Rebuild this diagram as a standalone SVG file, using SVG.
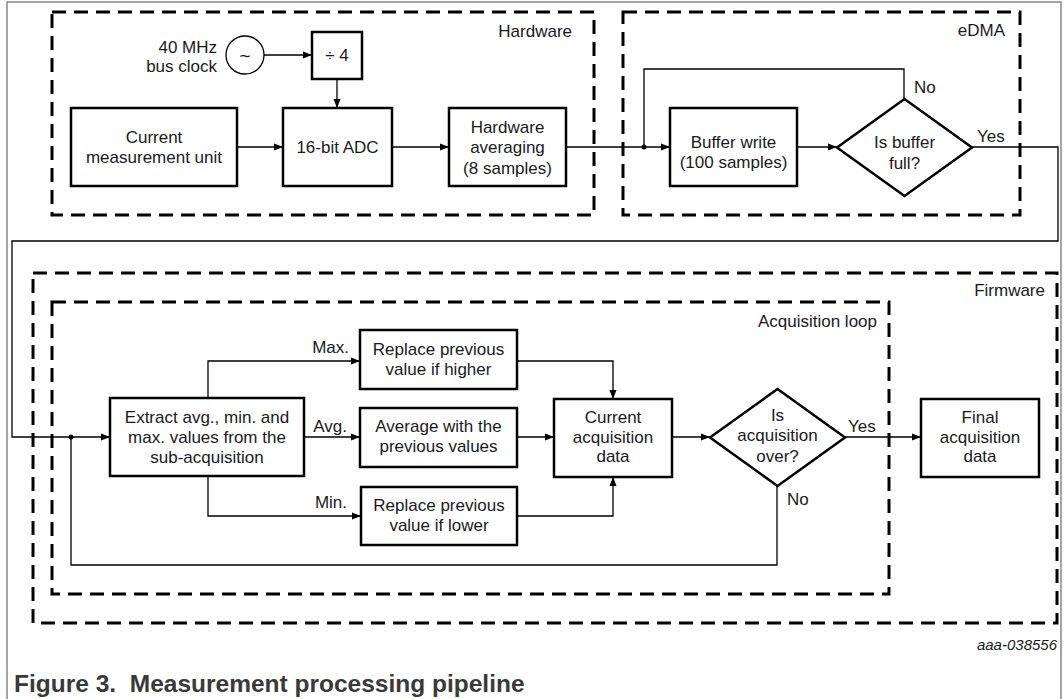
<svg xmlns="http://www.w3.org/2000/svg" width="1064" height="699" viewBox="0 0 1064 699">
<defs>
<style>
text{font-family:"Liberation Sans",Arial,sans-serif;font-size:17px;fill:#1a1a1a}
.c{text-anchor:middle}
.r{text-anchor:end}
.box{fill:#fff;stroke:#000;stroke-width:2.5}
.grp{fill:none;stroke:#000;stroke-width:3;stroke-dasharray:14 8}
.ln{fill:none;stroke:#000;stroke-width:1.3}
.ar{marker-end:url(#ah)}
</style>
<marker id="ah" markerUnits="userSpaceOnUse" markerWidth="9" markerHeight="8" refX="9" refY="4" orient="auto">
<path d="M0,0.5 L9,4 L0,7.5 z" fill="#000"/>
</marker>
</defs>
<rect width="1064" height="699" fill="#fff"/>
<path d="M7,699 V2 H1061 V699" fill="none" stroke="#888" stroke-width="1.5"/>

<g id="groups">
<rect id="hardware" class="grp" x="52" y="12" width="542" height="203"/>
<text class="r" x="572" y="37">Hardware</text>
<rect id="edma" class="grp" x="623" y="12" width="397" height="203"/>
<text class="r" x="1005" y="36">eDMA</text>
<rect id="firmware" class="grp" x="33" y="273" width="1024" height="350"/>
<text class="r" x="1045" y="296">Firmware</text>
<rect id="acqloop" class="grp" x="52" y="302" width="837" height="292"/>
<text class="r" x="877" y="327">Acquisition loop</text>
</g>

<g id="connectors">
<path class="ln ar" d="M264,55 H312"/>
<path class="ln ar" d="M337,79 V108"/>
<path class="ln ar" d="M237,147 H283"/>
<path class="ln ar" d="M392,147 H449"/>
<path class="ln ar" d="M566,147 H670"/>
<path class="ln ar" d="M797,147 H837"/>
<path class="ln" d="M904,99 V69 H644 V147"/>
<circle cx="644" cy="147" r="2.5" fill="#000"/>
<path class="ln ar" d="M972,147 H1058 V241 H12 V437 H110"/>
<circle cx="71" cy="437" r="2.5" fill="#000"/>
<path class="ln ar" d="M208,398 V361 H360"/>
<path class="ln ar" d="M304,437 H360"/>
<path class="ln ar" d="M208,476 V516 H361"/>
<path class="ln ar" d="M517,361 H613 V399"/>
<path class="ln ar" d="M517,437 H554"/>
<path class="ln ar" d="M517,516 H613 V477"/>
<path class="ln ar" d="M672,437 H710"/>
<path class="ln ar" d="M845,437 H921"/>
<path class="ln" d="M777,486 V565 H71 V437" stroke="#333" stroke-width="1.6"/>
<text x="914" y="93">No</text>
<text x="977" y="142">Yes</text>
<text class="r" x="349" y="353">Max.</text>
<text class="r" x="347" y="432">Avg.</text>
<text class="r" x="347" y="508">Min.</text>
<text x="848" y="432">Yes</text>
<text x="787" y="505">No</text>
</g>

<g id="clock">
<circle cx="245" cy="55" r="19" fill="#fff" stroke="#000" stroke-width="1.3"/>
<text class="c" x="245" y="62" style="font-size:19px">~</text>
<text class="r" x="217" y="53">40 MHz</text>
<text class="r" x="217" y="72">bus clock</text>
</g>
<g id="div4">
<rect class="box" x="312" y="32" width="50" height="47"/>
<text class="c" x="337" y="61">÷ 4</text>
</g>
<g id="cmu">
<rect class="box" x="71" y="108" width="166" height="78"/>
<text class="c" x="154" y="143">Current</text>
<text class="c" x="154" y="163">measurement unit</text>
</g>
<g id="adc">
<rect class="box" x="283" y="108" width="109" height="78"/>
<text class="c" x="337.5" y="153">16-bit ADC</text>
</g>
<g id="hwavg">
<rect class="box" x="449" y="108" width="117" height="78"/>
<text class="c" x="507.5" y="133">Hardware</text>
<text class="c" x="507.5" y="153">averaging</text>
<text class="c" x="507.5" y="174">(8 samples)</text>
</g>
<g id="bufwrite">
<rect class="box" x="670" y="108" width="127" height="78"/>
<text class="c" x="733.5" y="148">Buffer write</text>
<text class="c" x="733.5" y="168">(100 samples)</text>
</g>
<g id="buffull">
<path class="box" d="M837,147.5 L904.5,99 L972,147.5 L904.5,196 z"/>
<text class="c" x="904.5" y="148">Is buffer</text>
<text class="c" x="904.5" y="169">full?</text>
</g>
<g id="extract">
<rect class="box" x="110" y="398" width="194" height="78"/>
<text class="c" x="207" y="423">Extract avg., min. and</text>
<text class="c" x="207" y="443">max. values from the</text>
<text class="c" x="207" y="463">sub-acquisition</text>
</g>
<g id="higher">
<rect class="box" x="360" y="330" width="157" height="59"/>
<text class="c" x="438.5" y="355">Replace previous</text>
<text class="c" x="438.5" y="375">value if higher</text>
</g>
<g id="average">
<rect class="box" x="360" y="408" width="157" height="59"/>
<text class="c" x="438.5" y="432">Average with the</text>
<text class="c" x="438.5" y="452">previous values</text>
</g>
<g id="lower">
<rect class="box" x="361" y="487" width="156" height="58"/>
<text class="c" x="439" y="511">Replace previous</text>
<text class="c" x="439" y="531">value if lower</text>
</g>
<g id="current">
<rect class="box" x="554" y="399" width="118" height="78"/>
<text class="c" x="613" y="423">Current</text>
<text class="c" x="613" y="443">acquisition</text>
<text class="c" x="613" y="462">data</text>
</g>
<g id="acqover">
<path class="box" d="M710,437.5 L777.5,389 L845,437.5 L777.5,486 z"/>
<text class="c" x="777.5" y="421">Is</text>
<text class="c" x="777.5" y="441">acquisition</text>
<text class="c" x="777.5" y="462">over?</text>
</g>
<g id="final">
<rect class="box" x="921" y="399" width="118" height="78"/>
<text class="c" x="980" y="423">Final</text>
<text class="c" x="980" y="443">acquisition</text>
<text class="c" x="980" y="462">data</text>
</g>

<text class="r" x="1057" y="650" style="font-size:15px;font-style:italic">aaa-038556</text>
<text x="14" y="692" xml:space="preserve" style="font-size:24.5px;font-weight:bold;fill:#3a3a3a">Figure 3.  Measurement processing pipeline</text>
</svg>
